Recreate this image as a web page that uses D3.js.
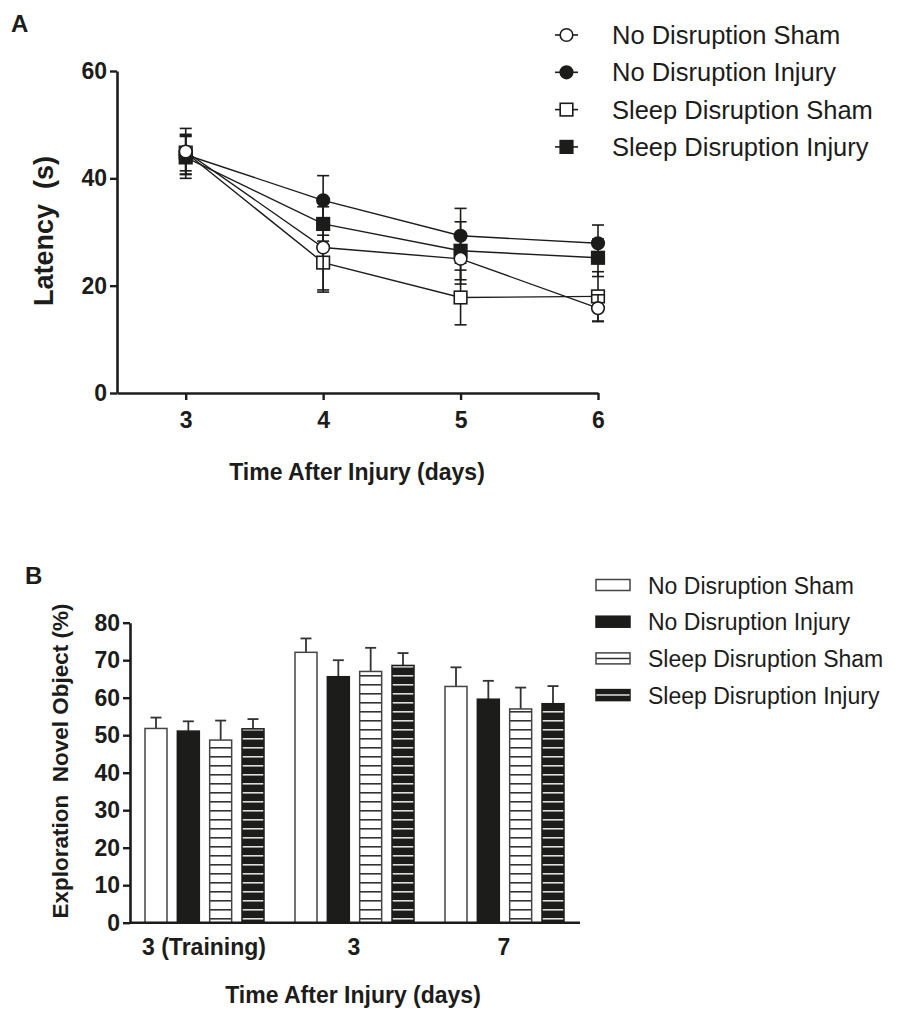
<!DOCTYPE html>
<html>
<head>
<meta charset="utf-8">
<script src="https://cdn.jsdelivr.net/npm/d3@7"></script>
<style>
  body { margin: 0; background: #fff; }
  svg { display: block; font-family: "Liberation Sans", Arial, sans-serif; }
  .pre { white-space: pre; }
</style>
</head>
<body>
<div id="chart"></div>
<script>
// ---- data ----
var seriesNames = ["No Disruption Sham", "No Disruption Injury", "Sleep Disruption Sham", "Sleep Disruption Injury"];

// panel A: latency (s) by day
var days = [3, 4, 5, 6];
var latNDS = [45.0, 27.1, 25.0, 15.8];
var latNDSerr = [4.3, 8.3, 4.7, 2.5];
var latNDI = [44.4, 35.9, 29.3, 27.9];
var latNDIerr = [3.6, 4.6, 5.1, 3.4];
var latSDS = [44.8, 24.3, 17.8, 18.0];
var latSDSerr = [3.4, 5.1, 5.1, 4.6];
var latSDI = [43.9, 31.5, 26.5, 25.2];
var latSDIerr = [3.9, 3.2, 5.4, 3.5];
var latTicks = [0, 20, 40, 60];

// panel B: exploration of novel object (%)
var groups = ["3 (Training)", "3", "7"];
var expNDS = [51.8, 72.1, 63.0];
var expNDSerr = [2.9, 3.7, 5.1];
var expNDI = [51.1, 65.6, 59.6];
var expNDIerr = [2.6, 4.4, 4.9];
var expSDS = [48.7, 67.0, 57.0];
var expSDSerr = [5.2, 6.3, 5.7];
var expSDI = [51.7, 68.6, 58.4];
var expSDIerr = [2.6, 3.3, 4.7];
var expTicks = [0, 10, 20, 30, 40, 50, 60, 70, 80];

var ink = "#1c1c1a";

var svg = d3.select("#chart")
  .append("svg")
    .attr("width", 898)
    .attr("height", 1030);

var defs = svg.append("defs");
// striped fills for the sleep disruption bars
var p1 = defs.append("pattern").attr("id", "stripeWhite")
  .attr("patternUnits", "userSpaceOnUse").attr("width", 8).attr("height", 9);
p1.append("rect").attr("width", 8).attr("height", 9).attr("fill", "#fff");
p1.append("rect").attr("y", 0).attr("width", 8).attr("height", 1.6).attr("fill", "#333");
var p2 = defs.append("pattern").attr("id", "stripeBlack")
  .attr("patternUnits", "userSpaceOnUse").attr("width", 8).attr("height", 9);
p2.append("rect").attr("width", 8).attr("height", 9).attr("fill", ink);
p2.append("rect").attr("y", 0).attr("width", 8).attr("height", 1.6).attr("fill", "#ddd");

function styleAxis(g) {
  g.selectAll(".domain").attr("stroke", ink).attr("stroke-width", 2.6);
  g.selectAll(".tick line").attr("stroke", ink).attr("stroke-width", 2.4);
  g.selectAll(".tick text").attr("fill", ink).style("font-size", "23px").style("font-weight", "bold")
    .style("font-family", "'Liberation Sans', Arial, sans-serif");
}

// ================= Panel A =================
var xA = d3.scaleLinear().domain([2.5, 6]).range([117, 598]);
var yA = d3.scaleLinear().domain([0, 60]).range([393, 71]);

svg.append("text").text("A").attr("x", 11).attr("y", 32)
  .style("font-size", "24px").style("font-weight", "bold").attr("fill", ink);

var gyA = svg.append("g").attr("transform", "translate(117,0)")
  .call(d3.axisLeft(yA).tickValues(latTicks).tickSize(7).tickPadding(3).tickSizeOuter(0));
styleAxis(gyA);
var gxA = svg.append("g").attr("transform", "translate(0,393)")
  .call(d3.axisBottom(xA).tickValues(days).tickFormat(d3.format("d"))
    .tickSize(7).tickPadding(12).tickSizeOuter(0));
styleAxis(gxA);

svg.append("text").text("Latency  (s)").attr("class", "pre")
  .attr("transform", "translate(53,231) rotate(-90)")
  .attr("text-anchor", "middle")
  .style("font-size", "27px").style("font-weight", "bold").attr("fill", ink);
svg.append("text").text("Time After Injury (days)")
  .attr("x", 357).attr("y", 480).attr("text-anchor", "middle")
  .style("font-size", "23px").style("font-weight", "bold").attr("fill", ink);

var latSeries = [
  { name: seriesNames[3], vals: latSDI, errs: latSDIerr, shape: "square", fill: ink },
  { name: seriesNames[2], vals: latSDS, errs: latSDSerr, shape: "square", fill: "#fff" },
  { name: seriesNames[1], vals: latNDI, errs: latNDIerr, shape: "circle", fill: ink },
  { name: seriesNames[0], vals: latNDS, errs: latNDSerr, shape: "circle", fill: "#fff" }
];

var line = d3.line().x(function(d) { return xA(d.day); }).y(function(d) { return yA(d.v); });

function drawMarker(g, shape, fill, cx, cy) {
  if (shape === "circle") {
    g.append("circle").attr("cx", cx).attr("cy", cy).attr("r", 6.3)
      .attr("fill", fill).attr("stroke", ink).attr("stroke-width", 1.6);
  } else {
    g.append("rect").attr("x", cx - 6.3).attr("y", cy - 6.3).attr("width", 12.6).attr("height", 12.6)
      .attr("fill", fill).attr("stroke", ink).attr("stroke-width", 1.6);
  }
}

latSeries.forEach(function(s) {
  var pts = days.map(function(d, i) { return { day: d, v: s.vals[i], e: s.errs[i] }; });
  var g = svg.append("g");
  pts.forEach(function(p) {
    var x = xA(p.day);
    g.append("line").attr("x1", x).attr("x2", x).attr("y1", yA(p.v - p.e)).attr("y2", yA(p.v + p.e))
      .attr("stroke", ink).attr("stroke-width", 1.6);
    [p.v - p.e, p.v + p.e].forEach(function(c) {
      g.append("line").attr("x1", x - 6).attr("x2", x + 6).attr("y1", yA(c)).attr("y2", yA(c))
        .attr("stroke", ink).attr("stroke-width", 1.6);
    });
  });
  g.append("path").datum(pts).attr("d", line)
    .attr("fill", "none").attr("stroke", ink).attr("stroke-width", 1.4);
  pts.forEach(function(p) { drawMarker(g, s.shape, s.fill, xA(p.day), yA(p.v)); });
});

// legend A
var legA = [
  { shape: "circle", fill: "#fff" },
  { shape: "circle", fill: ink },
  { shape: "square", fill: "#fff" },
  { shape: "square", fill: ink }
];
legA.forEach(function(l, i) {
  var cy = 35 + i * 37.3;
  var g = svg.append("g");
  g.append("line").attr("x1", 555).attr("x2", 578).attr("y1", cy).attr("y2", cy)
    .attr("stroke", ink).attr("stroke-width", 1.6);
  drawMarker(g, l.shape, l.fill, 566.5, cy);
  g.append("text").text(seriesNames[i]).attr("x", 612).attr("y", cy + 9)
    .style("font-size", "25.5px").attr("fill", ink);
});

// ================= Panel B =================
var x0 = d3.scaleBand().domain(groups).range([129, 579]);
var x1 = d3.scaleBand().domain(seriesNames).range([16, 135]).paddingInner(0.32);
var yB = d3.scaleLinear().domain([0, 80]).range([922.7, 622.7]);

svg.append("text").text("B").attr("x", 25).attr("y", 584)
  .style("font-size", "24px").style("font-weight", "bold").attr("fill", ink);

var barSeries = [
  { name: seriesNames[0], vals: expNDS, errs: expNDSerr, fill: "#fff", stroke: "#444" },
  { name: seriesNames[1], vals: expNDI, errs: expNDIerr, fill: ink, stroke: ink },
  { name: seriesNames[2], vals: expSDS, errs: expSDSerr, fill: "url(#stripeWhite)", stroke: "#444" },
  { name: seriesNames[3], vals: expSDI, errs: expSDIerr, fill: "url(#stripeBlack)", stroke: ink }
];

barSeries.forEach(function(s) {
  var g = svg.append("g");
  groups.forEach(function(gr, i) {
    var bx = x0(gr) + x1(s.name);
    var bw = x1.bandwidth();
    var cx = bx + bw / 2;
    var top = yB(s.vals[i]), etop = yB(s.vals[i] + s.errs[i]);
    g.append("line").attr("x1", cx).attr("x2", cx).attr("y1", top).attr("y2", etop)
      .attr("stroke", "#333").attr("stroke-width", 1.8);
    g.append("line").attr("x1", cx - 5.5).attr("x2", cx + 5.5).attr("y1", etop).attr("y2", etop)
      .attr("stroke", "#333").attr("stroke-width", 1.8);
    g.append("rect").attr("x", bx).attr("y", top).attr("width", bw).attr("height", yB(0) - top)
      .attr("fill", s.fill).attr("stroke", s.stroke).attr("stroke-width", 1.5);
  });
});

var gyB = svg.append("g").attr("transform", "translate(130,0)")
  .call(d3.axisLeft(yB).tickValues(expTicks).tickSize(7).tickPadding(3).tickSizeOuter(0));
styleAxis(gyB);
var gxB = svg.append("g").attr("transform", "translate(0,922.7)")
  .call(d3.axisBottom(x0).tickSize(0).tickPadding(16).tickSizeOuter(0));
styleAxis(gxB);
gxB.select(".domain").attr("d", "M130,0H580");

svg.append("text").text("Exploration  Novel Object (%)").attr("class", "pre")
  .attr("transform", "translate(68,761) rotate(-90)")
  .attr("text-anchor", "middle")
  .style("font-size", "22.5px").style("font-weight", "bold").attr("fill", ink);
svg.append("text").text("Time After Injury (days)")
  .attr("x", 353).attr("y", 1003).attr("text-anchor", "middle")
  .style("font-size", "23px").style("font-weight", "bold").attr("fill", ink);

// legend B
var legB = [
  { fill: "#fff", stroke: "#444", mid: null },
  { fill: ink, stroke: ink, mid: null },
  { fill: "#fff", stroke: "#444", mid: "#333" },
  { fill: ink, stroke: ink, mid: "#ddd" }
];
legB.forEach(function(l, i) {
  var cy = 585 + i * 36.7;
  var g = svg.append("g");
  g.append("rect").attr("x", 596).attr("y", cy - 5.5).attr("width", 34).attr("height", 11)
    .attr("fill", l.fill).attr("stroke", l.stroke).attr("stroke-width", 1.5);
  if (l.mid) {
    g.append("line").attr("x1", 596.5).attr("x2", 629.5).attr("y1", cy).attr("y2", cy)
      .attr("stroke", l.mid).attr("stroke-width", 1.5);
  }
  g.append("text").text(seriesNames[i]).attr("x", 648).attr("y", cy + 8.5)
    .style("font-size", "23px").attr("fill", ink);
});
</script>
</body>
</html>
